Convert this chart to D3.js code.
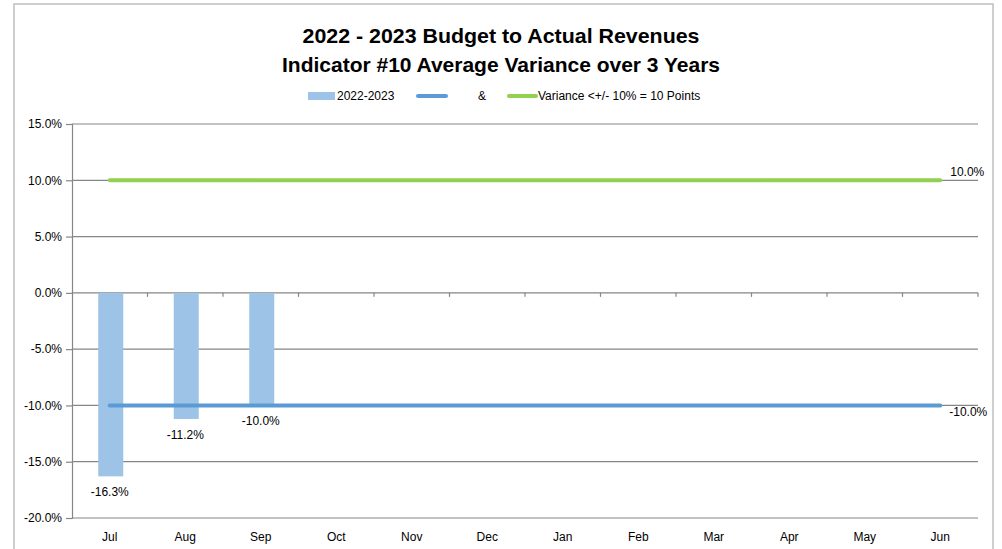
<!DOCTYPE html>
<html>
<head>
<meta charset="utf-8">
<script src="https://cdn.jsdelivr.net/npm/d3@7"></script>
<style>
  html, body { margin: 0; padding: 0; background: #ffffff; }
  svg { display: block; font-family: "Liberation Sans", Arial, sans-serif; }
</style>
</head>
<body>
<svg id="chart" width="1002" height="549"></svg>
<script>
// Months of the fiscal year
const months = ["Jul", "Aug", "Sep", "Oct", "Nov", "Dec", "Jan", "Feb", "Mar", "Apr", "May", "Jun"];
// Actual vs budget variance for the months reported so far (percent)
const variance = [-16.3, -11.2, -10.0];
// Threshold lines across the whole year (percent)
const lowerLimit = [-10, -10, -10, -10, -10, -10, -10, -10, -10, -10, -10, -10];
const upperLimit = [10, 10, 10, 10, 10, 10, 10, 10, 10, 10, 10, 10];
// Value axis ticks (percent)
const yTicks = [-20, -15, -10, -5, 0, 5, 10, 15];

const titleLines = ["2022 - 2023 Budget to Actual Revenues", "Indicator #10 Average Variance over 3 Years"];
const legendLabels = ["2022-2023", "&", "Variance <+/- 10% = 10 Points"];

const colors = { bar: "#9DC3E6", lower: "#5B9BD5", upper: "#92D050", grid: "#868686", text: "#000000" };
const fs = 12;

// Percent with one decimal and a plain hyphen for negatives
const pct = v => (v < 0 ? "-" : "") + Math.abs(v).toFixed(1) + "%";

const svg = d3.select("#chart");
const plot = { left: 72, right: 978, top: 124, bottom: 518 };

// Chart frame
svg.append("rect")
  .attr("x", 14).attr("y", 4).attr("width", 979).attr("height", 560)
  .attr("fill", "#ffffff").attr("stroke", "#bfbfbf").attr("stroke-width", 1.5);

const x = d3.scaleBand().domain(months).range([plot.left, plot.right]).paddingInner(0).paddingOuter(0);
const y = d3.scaleLinear().domain([-20, 15]).range([plot.bottom, plot.top]);

// Title
svg.selectAll("text.title").data(titleLines).join("text")
  .attr("class", "title")
  .attr("x", 501).attr("y", (d, i) => 43 + i * 29)
  .attr("text-anchor", "middle")
  .attr("font-size", 21).attr("font-weight", "bold").attr("fill", colors.text)
  .attr("textLength", (d, i) => i === 0 ? 397 : 438)
  .attr("lengthAdjust", "spacingAndGlyphs")
  .text(d => d);

// Value axis with gridlines
const yAxis = d3.axisLeft(y).tickValues(yTicks)
  .tickFormat(pct)
  .tickSize(6).tickPadding(4);
const yG = svg.append("g").attr("transform", `translate(${plot.left},0)`).call(yAxis);
yG.select(".domain").attr("stroke", colors.grid).attr("stroke-width", 1.2);
yG.selectAll(".tick line").attr("stroke", colors.grid).attr("stroke-width", 1.2);
yG.selectAll(".tick text").attr("font-size", fs).attr("fill", colors.text)
  .attr("font-family", "'Liberation Sans', Arial, sans-serif");

svg.append("g").selectAll("line").data(yTicks).join("line")
  .attr("x1", plot.left).attr("x2", plot.right)
  .attr("y1", d => y(d)).attr("y2", d => y(d))
  .attr("stroke", colors.grid).attr("stroke-width", 1.2);

// Category tick marks hang from the zero line
const boundaries = months.map(m => x(m) + x.bandwidth());
svg.append("g").selectAll("line").data(boundaries).join("line")
  .attr("x1", d => d).attr("x2", d => d)
  .attr("y1", y(0)).attr("y2", y(0) + 4)
  .attr("stroke", colors.grid).attr("stroke-width", 1.2);

// Category labels along the bottom
svg.append("g").selectAll("text").data(months).join("text")
  .attr("x", d => x(d) + x.bandwidth() / 2)
  .attr("y", plot.bottom + 23)
  .attr("text-anchor", "middle").attr("font-size", fs).attr("fill", colors.text)
  .text(d => d);

// Variance bars
const barW = 25;
const barData = variance.map((v, i) => ({ month: months[i], value: v }));
svg.append("g").selectAll("rect").data(barData).join("rect")
  .attr("x", d => x(d.month) + x.bandwidth() / 2 - barW / 2 + 1)
  .attr("width", barW)
  .attr("y", d => y(Math.max(0, d.value)))
  .attr("height", d => Math.abs(y(d.value) - y(0)))
  .attr("fill", colors.bar);

// Threshold lines
const line = d3.line()
  .x((d, i) => x(months[i]) + x.bandwidth() / 2)
  .y(d => y(d));
svg.append("path").datum(upperLimit).attr("d", line)
  .attr("fill", "none").attr("stroke", colors.upper).attr("stroke-width", 4).attr("stroke-linecap", "round");
svg.append("path").datum(lowerLimit).attr("d", line)
  .attr("fill", "none").attr("stroke", colors.lower).attr("stroke-width", 4).attr("stroke-linecap", "round");

// Bar value labels
svg.append("g").selectAll("text").data(barData).join("text")
  .attr("x", d => x(d.month) + x.bandwidth() / 2)
  .attr("y", d => y(d.value) + 20)
  .attr("text-anchor", "middle").attr("font-size", fs).attr("fill", colors.text)
  .text(d => pct(d.value));

// End labels on the threshold lines
const lastX = x(months[11]) + x.bandwidth() / 2;
svg.append("text")
  .attr("x", lastX + 10).attr("y", y(upperLimit[11]) - 4)
  .attr("font-size", fs).attr("fill", colors.text)
  .text(pct(upperLimit[11]));
svg.append("text")
  .attr("x", lastX + 9).attr("y", y(lowerLimit[11]) + 11)
  .attr("font-size", fs).attr("fill", colors.text)
  .text(pct(lowerLimit[11]));

// Legend
const lg = svg.append("g").attr("font-size", fs).attr("fill", colors.text);
lg.append("rect").attr("x", 308).attr("y", 92).attr("width", 27).attr("height", 8).attr("fill", colors.bar);
lg.append("text").attr("x", 337).attr("y", 100).text(legendLabels[0]);
lg.append("line").attr("x1", 418).attr("x2", 446).attr("y1", 96).attr("y2", 96)
  .attr("stroke", colors.lower).attr("stroke-width", 4).attr("stroke-linecap", "round");
lg.append("text").attr("x", 478).attr("y", 100).text(legendLabels[1]);
lg.append("line").attr("x1", 509).attr("x2", 536).attr("y1", 96).attr("y2", 96)
  .attr("stroke", colors.upper).attr("stroke-width", 4).attr("stroke-linecap", "round");
lg.append("text").attr("x", 538).attr("y", 100).text(legendLabels[2]);
</script>
</body>
</html>
